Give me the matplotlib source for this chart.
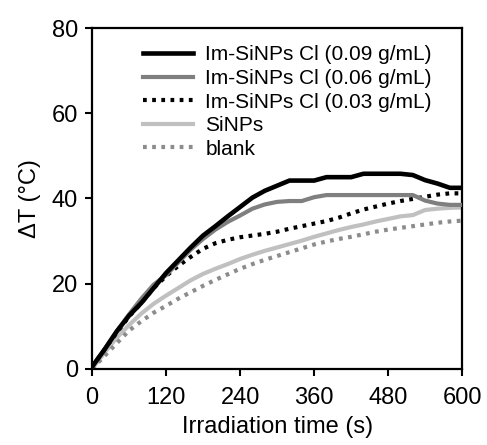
import matplotlib
matplotlib.use("Agg")
import matplotlib.pyplot as plt

plt.rcParams['font.family'] = ['Liberation Sans', 'DejaVu Sans']

time_s = [0, 20, 40, 60, 80, 100, 120, 140, 160, 180, 200, 220, 240, 260, 280, 300,
          320, 340, 360, 380, 400, 420, 440, 460, 480, 500, 520, 540, 560, 580, 600]

im_009 = [0.5, 4.5, 8.8, 12.5, 15.5, 19.0, 22.5, 25.5, 28.5, 31.3, 33.5, 35.8, 38.0, 40.2, 41.8, 43.0,
          44.2, 44.2, 44.2, 45.0, 45.0, 45.0, 45.8, 45.8, 45.8, 45.8, 45.5, 44.3, 43.5, 42.5, 42.5]
im_006 = [0.5, 4.5, 8.8, 12.8, 16.5, 19.8, 22.0, 25.0, 28.0, 30.5, 32.7, 34.5, 36.0, 37.6, 38.6, 39.2,
          39.4, 39.4, 40.3, 40.8, 40.8, 40.8, 40.8, 40.8, 40.8, 40.8, 40.8, 39.5, 38.8, 38.5, 38.5]
im_003 = [0.5, 4.5, 8.5, 12.3, 15.5, 19.0, 21.8, 24.2, 26.3, 28.2, 29.5, 30.3, 30.9, 31.3, 31.7, 32.2,
          32.9, 33.5, 34.1, 34.7, 35.5, 36.5, 37.4, 38.1, 38.8, 39.4, 39.9, 40.4, 40.9, 41.2, 41.2]
sinps = [0.0, 3.8, 7.3, 10.3, 13.0, 15.3, 17.2, 19.0, 20.8, 22.3, 23.5, 24.6, 25.8, 26.8, 27.7, 28.5,
         29.3, 30.1, 31.0, 31.8, 32.6, 33.3, 33.9, 34.6, 35.2, 35.8, 36.1, 37.3, 37.6, 37.8, 37.9]
blank = [0.0, 3.0, 6.0, 9.0, 11.2, 13.2, 14.8, 16.5, 18.0, 19.5, 20.9, 22.2, 23.5, 24.6, 25.6, 26.5,
         27.4, 28.3, 29.2, 29.9, 30.5, 31.0, 31.6, 32.2, 32.7, 33.1, 33.5, 33.9, 34.3, 34.6, 34.8]

labels = ["Im-SiNPs Cl (0.09 g/mL)", "Im-SiNPs Cl (0.06 g/mL)", "Im-SiNPs Cl (0.03 g/mL)",
          "SiNPs", "blank"]
x_ticks = [0, 120, 240, 360, 480, 600]
y_ticks = [0, 20, 40, 60, 80]

fig = plt.figure(figsize=(4.87, 4.45), dpi=100)
ax = fig.add_axes([0.189, 0.171, 0.760, 0.766])

lw = 3.0
ax.plot(time_s, sinps, color='#c0c0c0', lw=lw, label=labels[3], zorder=2)
ax.plot(time_s, blank, color='#8c8c8c', lw=lw, ls=(0, (0.9, 1.3)), label=labels[4], zorder=2)
ax.plot(time_s, im_003, color='#000000', lw=lw, ls=(0, (0.9, 1.3)), label=labels[2], zorder=3)
ax.plot(time_s, im_006, color='#7f7f7f', lw=lw, label=labels[1], zorder=3)
ax.plot(time_s, im_009, color='#000000', lw=lw + 0.3, label=labels[0], zorder=4)

handles, labs = ax.get_legend_handles_labels()
order = [labs.index(l) for l in labels]
leg = ax.legend([handles[i] for i in order], [labs[i] for i in order],
                loc='upper left', bbox_to_anchor=(0.138, 0.949), frameon=False,
                fontsize=15, handlelength=2.4, handletextpad=0.58,
                labelspacing=0.22, borderaxespad=0, borderpad=0)

ax.set_xlim(0, 600)
ax.set_ylim(0, 80)
ax.set_xticks(x_ticks)
ax.set_yticks(y_ticks)
ax.tick_params(direction='out', length=5, width=1.5, labelsize=17)
ax.tick_params(axis='x', pad=8)
ax.tick_params(axis='y', pad=5)
for s in ax.spines.values():
    s.set_linewidth(1.6)
ax.set_xlabel("Irradiation time (s)", fontsize=17, labelpad=5)
ax.set_ylabel("ΔT (°C)", fontsize=17, labelpad=8)

fig.savefig("out.png", dpi=100)
